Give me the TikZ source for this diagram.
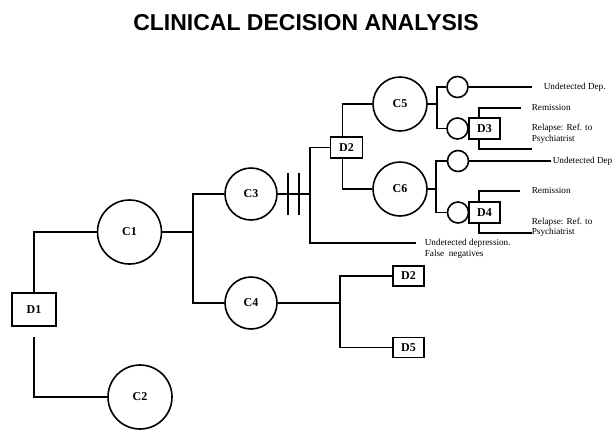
\documentclass[tikz,border=0pt]{standalone}
\usepackage{fontspec}
\setmainfont{Liberation Serif}
\newfontfamily\titlefont{Liberation Sans}
\begin{document}
\begin{tikzpicture}[x=1pt,y=-1pt,line width=1.6pt,
  chance/.style={circle,draw,inner sep=0pt,font=\bfseries\fontsize{12}{12}\selectfont},
  decision/.style={rectangle,draw,inner sep=0pt,font=\bfseries\fontsize{12}{12}\selectfont},
  small/.style={circle,draw,minimum size=21pt,inner sep=0pt},
  lbl/.style={anchor=west,align=left,inner sep=0pt,font=\fontsize{9.2}{10.5}\selectfont}]
\useasboundingbox (0,0) rectangle (613,429);
% title
\node[font=\titlefont\bfseries\fontsize{23}{26}\selectfont] (title) at (306,23) {CLINICAL DECISION ANALYSIS};
% left part of the tree
\node[decision,minimum width=44pt,minimum height=33pt] (d1) at (34,309.5) {D1};
\node[chance,minimum size=64pt] (c1) at (129.5,232) {C1};
\node[chance,minimum size=64pt] (c2) at (140,397) {C2};
\node[chance,minimum size=52pt] (c3) at (251,194) {C3};
\node[chance,minimum size=52pt] (c4) at (251,303) {C4};
% right part of the tree
\node[decision,minimum width=32pt,minimum height=21pt] (d2a) at (346.5,147.5) {D2};
\node[chance,minimum size=54pt] (c5) at (400,104) {C5};
\node[chance,minimum size=54pt] (c6) at (400,189) {C6};
\node[small] (s1) at (457.5,87) {};
\node[small] (s2) at (457.5,128.5) {};
\node[small] (s3) at (458,161) {};
\node[small] (s4) at (458,212.5) {};
\node[decision,minimum width=31pt,minimum height=21pt] (d3) at (484.5,128.5) {D3};
\node[decision,minimum width=31pt,minimum height=21pt] (d4) at (484.5,212.5) {D4};
\node[decision,minimum width=31pt,minimum height=20pt] (d2b) at (408.5,276) {D2};
\node[decision,minimum width=31pt,minimum height=20pt] (d5) at (408.5,347.5) {D5};
% branch points and free ends
\coordinate (j1) at (193,232);
\coordinate (j2) at (310,194);
\coordinate (j3) at (437,104);
\coordinate (j4) at (436,189);
\coordinate (j5) at (340,303);
\coordinate (fnend) at (416,243);
\coordinate (e1) at (532,87);
\coordinate (e2) at (521,108);
\coordinate (e3) at (532,149);
\coordinate (e4) at (551,161);
\coordinate (e5) at (520,191);
\coordinate (e6) at (532,233);
% connectors
\draw (d1) |- (c1);
\draw ([yshift=-10pt]d1.south) |- (c2);
\draw (c1) -- (j1);
\draw (c3) -| (j1) |- (c4);
\draw (c3) -- (j2);
\foreach \x in {288,299}{
    \draw[line width=2pt] (\x,173)--(\x,215);
}
\draw (d2a) -| (j2) |- (fnend);
\draw ([xshift=-4pt]d2a.north) |- (c5);
\draw ([xshift=-4pt]d2a.south) |- (c6);
\draw (c5) -- (j3);
\draw (s1) -| (j3) |- (s2);
\draw (s1) -- (e1);
\draw ([xshift=-5.5pt]d3.north) |- (e2);
\draw ([xshift=-5.5pt]d3.south) |- (e3);
\draw (c6) -- (j4);
\draw (s3) -| (j4) |- (s4);
\draw (s3) -- (e4);
\draw ([xshift=-5.5pt]d4.north) |- (e5);
\draw ([xshift=-5.5pt]d4.south) |- (e6);
\draw (c4) -- (j5);
\draw (d2b) -| (j5) |- (d5);
% outcome labels
\node[lbl] (t1) at (543,87) {Undetected Dep.};
\node[lbl] (t2) at (531,107) {Remission};
\node[lbl] (t3) at (531,133.5) {Relapse: Ref. to\\Psychiatrist};
\node[lbl] (t4) at (552,161) {Undetected Dep.};
\node[lbl] (t5) at (531,190) {Remission};
\node[lbl] (t6) at (531,227) {Relapse: Ref. to\\Psychiatrist};
\node[lbl] (t7) at (424,249) {Undetected depression.\\False~ negatives};
\end{tikzpicture}
\end{document}
